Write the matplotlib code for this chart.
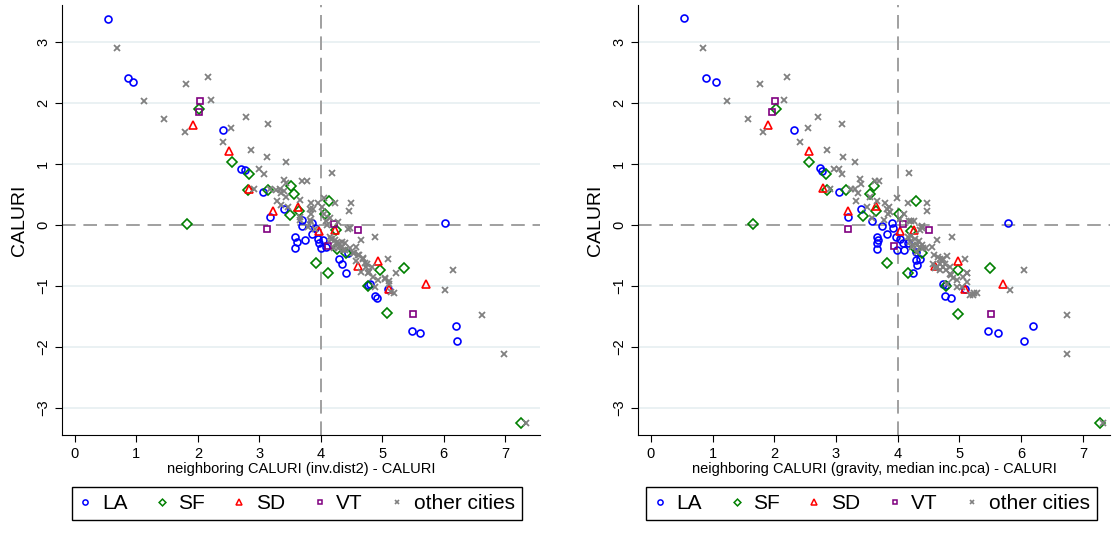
import numpy as np
import matplotlib
matplotlib.use("Agg")
import matplotlib.pyplot as plt
from matplotlib.lines import Line2D

plt.rcParams['font.family'] = ['Liberation Sans', 'DejaVu Sans']

# ---- data: (neighboring CALURI - CALURI, CALURI) ----
# left panel: inv.dist2
la_left = [(0.53, 3.38), (0.87, 2.42), (0.94, 2.35), (2.41, 1.56), (2.70, 0.92),
           (2.77, 0.90), (3.06, 0.55), (3.40, 0.27), (3.18, 0.13), (3.69, 0.08),
           (3.69, -0.01), (3.86, 0.04), (3.90, -0.05), (3.59, -0.19), (3.61, -0.27),
           (3.58, -0.38), (3.74, -0.25), (3.86, -0.15), (3.96, -0.22), (3.98, -0.30),
           (4.01, -0.38), (4.09, -0.36), (4.04, -0.25), (4.30, -0.55), (4.34, -0.64),
           (4.42, -0.78), (4.44, -0.46), (4.77, -0.98), (4.80, -0.96), (4.88, -1.16),
           (4.92, -1.19), (5.09, -1.05), (6.02, 0.03), (5.49, -1.74), (5.61, -1.77),
           (6.20, -1.66), (6.22, -1.90)]
sf_left = [(2.02, 1.90), (2.56, 1.03), (2.84, 0.84), (2.82, 0.57), (3.15, 0.57),
           (3.51, 0.64), (3.57, 0.51), (3.50, 0.16), (3.65, 0.23), (4.14, 0.40),
           (4.07, 0.19), (1.82, 0.02), (4.25, -0.08), (3.93, -0.62), (4.12, -0.79),
           (4.42, -0.46), (4.26, -0.39), (4.77, -0.99), (4.96, -0.74), (5.35, -0.70),
           (5.08, -1.44), (7.26, -3.25)]
sd_left = [(1.92, 1.64), (2.51, 1.22), (2.83, 0.60), (3.22, 0.23), (3.63, 0.29),
           (3.98, -0.09), (4.24, -0.08), (4.94, -0.59), (4.60, -0.67), (5.11, -1.04),
           (5.72, -0.97)]
vt_left = [(2.03, 2.04), (2.02, 1.86), (3.12, -0.07), (4.22, 0.02), (4.61, -0.08),
           (4.12, -0.34), (5.50, -1.46)]
other_left = [(0.68, 2.91), (1.80, 2.31), (2.17, 2.43), (1.13, 2.04), (1.45, 1.74),
              (2.21, 2.05), (1.79, 1.53), (2.54, 1.60), (2.41, 1.37), (2.79, 1.77),
              (3.14, 1.66), (2.86, 1.23), (3.13, 1.12), (3.43, 1.04), (2.99, 0.92),
              (3.07, 0.84), (4.19, 0.85), (3.41, 0.74), (3.43, 0.69), (3.69, 0.72),
              (3.78, 0.72), (2.92, 0.59), (3.18, 0.60), (3.28, 0.57), (3.33, 0.60),
              (3.40, 0.56), (3.36, 0.52), (3.29, 0.40), (3.44, 0.46), (3.67, 0.41),
              (3.84, 0.36), (3.82, 0.26), (3.85, 0.19), (3.96, 0.36), (4.05, 0.45),
              (4.23, 0.36), (3.46, 0.30), (3.36, 0.33), (3.66, 0.14), (3.83, 0.08),
              (4.09, 0.07), (4.28, 0.05), (3.88, 0.27), (4.50, 0.36), (4.46, 0.23),
              (3.66, 0.08), (3.85, 0.05), (4.44, -0.07), (4.66, -0.25), (4.89, -0.19),
              (4.17, -0.22), (4.24, -0.25), (4.30, -0.29), (4.34, -0.36), (4.39, -0.40),
              (4.21, -0.37), (4.58, -0.36), (4.61, -0.49), (4.69, -0.55), (4.72, -0.62),
              (4.74, -0.68), (4.66, -0.77), (4.77, -0.79), (4.85, -0.85), (4.94, -0.90),
              (5.04, -0.87), (5.09, -0.55), (5.23, -0.78), (5.20, -1.12), (4.88, -1.01),
              (6.02, -1.07), (4.47, -0.04), (5.11, -0.92), (6.16, -0.74), (6.62, -1.48),
              (6.99, -2.12), (7.34, -3.24), (3.79, -0.03), (3.90, -0.07), (4.15, -0.19),
              (4.25, -0.30), (4.39, -0.30), (4.47, -0.38), (4.53, -0.46), (4.58, -0.58),
              (4.63, -0.49), (4.69, -0.53), (4.79, -0.77), (5.04, -0.89), (5.11, -0.96),
              (5.15, -1.09), (4.15, 0.11), (4.19, -0.23), (4.34, -0.27), (4.36, -0.41),
              (4.28, -0.38), (4.55, -0.46), (4.75, -0.63), (4.84, -0.68), (4.05, 0.18),
              (4.02, 0.30), (4.10, 0.00)]

# right panel: gravity, median inc.pca
la_right = [(0.54, 3.39), (0.89, 2.41), (1.06, 2.35), (2.32, 1.56), (2.74, 0.93),
            (2.77, 0.89), (3.05, 0.55), (3.40, 0.27), (3.19, 0.13), (3.58, 0.07),
            (3.74, -0.02), (3.90, 0.04), (3.92, -0.04), (3.82, -0.15), (3.67, -0.20),
            (3.68, -0.25), (3.66, -0.29), (3.66, -0.39), (3.98, -0.20), (3.99, -0.40),
            (4.10, -0.40), (4.08, -0.30), (4.17, -0.30), (4.04, -0.22), (4.30, -0.44),
            (4.36, -0.55), (4.30, -0.57), (4.31, -0.66), (4.25, -0.78), (4.73, -0.97),
            (4.79, -0.98), (4.76, -1.16), (4.87, -1.19), (5.09, -1.04), (5.79, 0.03),
            (5.47, -1.74), (5.63, -1.77), (6.05, -1.90), (6.19, -1.66)]
sf_right = [(2.03, 1.90), (2.56, 1.03), (2.84, 0.84), (2.86, 0.57), (3.16, 0.57),
            (3.55, 0.51), (3.62, 0.64), (3.43, 0.15), (3.65, 0.23), (4.02, 0.19),
            (4.29, 0.40), (1.65, 0.02), (4.22, -0.10), (3.83, -0.62), (4.16, -0.79),
            (4.28, -0.37), (4.39, -0.46), (4.78, -0.99), (4.98, -0.74), (5.49, -0.71),
            (4.98, -1.45), (7.28, -3.25)]
sd_right = [(1.89, 1.64), (2.57, 1.22), (2.79, 0.61), (3.20, 0.23), (3.65, 0.31),
            (4.03, -0.09), (4.27, -0.08), (4.98, -0.59), (4.61, -0.67), (5.09, -1.04),
            (5.71, -0.97)]
vt_right = [(2.01, 2.04), (1.96, 1.86), (3.20, -0.07), (4.09, 0.02), (4.51, -0.08),
            (3.94, -0.34), (5.51, -1.46)]
other_right = [(0.85, 2.91), (1.76, 2.31), (2.20, 2.43), (1.24, 2.04), (1.58, 1.74),
               (2.16, 2.05), (1.81, 1.53), (2.55, 1.60), (2.41, 1.37), (2.71, 1.77),
               (3.10, 1.66), (2.86, 1.23), (3.12, 1.12), (3.31, 1.04), (2.97, 0.92),
               (3.05, 0.92), (3.09, 0.84), (4.18, 0.85), (3.39, 0.75), (3.40, 0.68),
               (3.63, 0.72), (3.70, 0.72), (2.90, 0.59), (3.25, 0.59), (3.31, 0.59),
               (3.36, 0.53), (3.32, 0.40), (3.55, 0.46), (3.66, 0.40), (3.79, 0.36),
               (3.83, 0.26), (3.85, 0.19), (3.99, 0.45), (4.16, 0.36), (4.27, 0.07),
               (4.47, 0.37), (4.47, 0.23), (4.21, 0.07), (4.40, -0.04), (4.63, -0.25),
               (4.88, -0.19), (4.22, -0.18), (4.28, -0.22), (4.35, -0.26), (4.40, -0.33),
               (4.46, -0.37), (4.25, -0.33), (4.55, -0.36), (4.58, -0.49), (4.66, -0.52),
               (4.71, -0.57), (4.68, -0.63), (4.63, -0.68), (4.74, -0.69), (4.79, -0.74),
               (4.85, -0.80), (4.90, -0.86), (5.05, -0.85), (5.09, -0.55), (5.13, -0.78),
               (5.24, -1.11), (5.17, -1.15), (5.04, -1.01), (6.05, -0.74), (5.82, -1.07),
               (6.75, -1.48), (6.75, -2.12), (7.33, -3.24), (3.86, 0.29), (3.88, 0.21),
               (4.19, 0.07), (4.36, -0.08), (4.39, -0.02), (4.16, -0.19), (4.20, -0.27),
               (4.31, -0.33), (4.36, -0.36), (4.41, -0.38), (4.23, -0.36), (4.32, -0.44),
               (4.68, -0.56), (4.74, -0.55), (4.76, -0.63), (4.80, -0.51), (4.57, -0.63),
               (4.60, -0.71), (4.68, -0.74), (4.85, -0.68), (4.87, -0.82), (4.96, -0.90),
               (4.80, -0.97), (5.12, -0.79), (5.12, -0.93), (4.96, -1.01), (5.22, -1.15),
               (5.28, -1.12), (3.50, 0.30), (3.58, 0.12), (3.78, 0.08), (4.03, 0.10),
               (4.10, 0.18)]

labels = ["LA", "SF", "SD", "VT", "other cities"]
colors = ["#0000ff", "#008000", "#ff0000", "#800080", "#808080"]
markers = ["o", "D", "^", "s", "x"]
msizes = [5.0, 4.6, 5.4, 4.6, 4.0]

panels = [
    ("neighboring CALURI (inv.dist2) - CALURI",
     [la_left, sf_left, sd_left, vt_left, other_left],
     [0.0558, 0.1839, 0.4298, 0.8067], (-0.21, 7.57), 0.267),
    ("neighboring CALURI (gravity, median inc.pca) - CALURI",
     [la_right, sf_right, sd_right, vt_right, other_right],
     [0.5737, 0.1839, 0.4245, 0.8067], (-0.21, 7.44), 0.784),
]

fig = plt.figure(figsize=(11.12, 5.33), dpi=100)

for xlabel, series, rect, xlim, legx in panels:
    ax = fig.add_axes(rect)
    for yg in [-3, -2, -1, 1, 2, 3]:
        ax.axhline(yg, color="#e8f0f2", lw=1.3, zorder=0)
    ax.axhline(0, color="#a0a0a0", lw=1.4, ls=(0, (7, 4)), zorder=1)
    ax.axvline(4, color="#a0a0a0", lw=1.4, ls=(0, (7, 4)), zorder=1)

    handles = []
    for pts, lab, c, m, ms in zip(series, labels, colors, markers, msizes):
        arr = np.array(pts)
        if m == "x":
            ax.plot(arr[:, 0], arr[:, 1], ls="none", marker=m, ms=ms, color=c,
                    mew=1.3, zorder=3)
            h = Line2D([], [], ls="none", marker=m, ms=3.5, color=c, mew=1.2)
        else:
            ax.plot(arr[:, 0], arr[:, 1], ls="none", marker=m, ms=ms, mfc="none",
                    mec=c, mew=1.2, zorder=3)
            h = Line2D([], [], ls="none", marker=m, ms=ms * 0.75, mfc="none",
                       mec=c, mew=1.1)
        handles.append(h)

    ax.set_xlim(xlim)
    ax.set_ylim(-3.44, 3.61)
    ax.set_xticks(range(0, 8))
    ax.set_yticks(range(-3, 4))
    ax.spines["top"].set_visible(False)
    ax.spines["right"].set_visible(False)
    ax.tick_params(direction="out", length=5, width=0.8, labelsize=10.5)
    for t in ax.get_yticklabels():
        t.set_rotation(90)
        t.set_va("center")
    ax.set_xlabel(xlabel, fontsize=10.5, labelpad=1)
    ax.set_ylabel("CALURI", fontsize=14, labelpad=6)

    leg = fig.legend(handles, labels, loc="lower center", ncol=5,
                     bbox_to_anchor=(legx, 0.004), fontsize=15, frameon=True,
                     fancybox=False, edgecolor="black", handlelength=0.6,
                     handletextpad=0.5, columnspacing=1.35, borderpad=0.35,
                     framealpha=1)
    leg.get_frame().set_linewidth(1.0)

fig.savefig("out.png", dpi=100)
plt.close(fig)
